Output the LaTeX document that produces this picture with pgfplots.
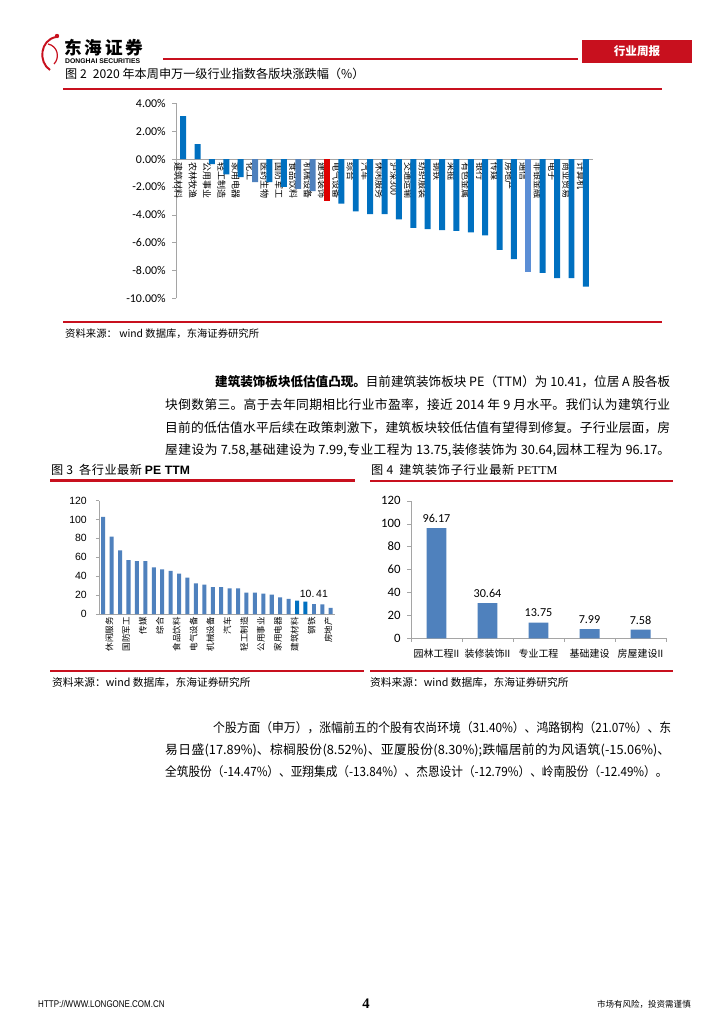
\documentclass[border=0pt]{standalone}
\usepackage{pgfplots}
\pgfplotsset{compat=1.18}
\usepackage{fontspec}
\setmainfont{Noto Sans CJK SC}
\newfontfamily\carl{Carlito}
\newfontfamily\ari{Liberation Sans}
\newfontfamily\tms{Liberation Serif}
\XeTeXlinebreaklocale "zh"
\XeTeXlinebreakskip=0pt plus 2pt minus 0.3pt

\definecolor{dblue}{RGB}{0,112,192}
\definecolor{lblue}{RGB}{79,129,189}
\definecolor{tblue}{RGB}{91,142,213}
\definecolor{hred}{RGB}{222,0,0}
\definecolor{lred}{RGB}{200,16,30}
\definecolor{axgray}{RGB}{165,165,165}

% set a line to a given width: spread it when short, squeeze it when long
\newcommand\fitbox[2]{\setbox0\hbox{#2}\ifdim\wd0>#1\relax\resizebox{#1}{\height}{\box0}%
  \else\parbox[t]{#1}{\parfillskip=0pt\relax #2\par}\fi}
\newcommand\jline[4]{\node[anchor=base west, inner sep=0pt,
  font=\fontsize{10.5pt}{12pt}\selectfont] at (#1,#2) {\fitbox{#3}{#4}};}
% place an axis at reference pixel (x,y)
\newcommand\pxat[2]{at={({#1*0.8222pt},{-#2*0.8222pt})}}

\begin{document}
\begin{tikzpicture}
\begin{scope}[x=0.8222pt,y=-0.8222pt]
\path[use as bounding box, fill=white] (0,0) rectangle (724,1024);

% ---------- header ----------
\draw[lred, line width=1.6pt] (56,37) .. controls (40,40) and (38,62) .. (50,70);
\draw[lred, line width=1pt] (48,44) .. controls (58,46) and (60,58) .. (54,64);
\fill[lred] (57,36) circle (2.2);
\node[anchor=west, inner sep=0pt, font=\bfseries\fontsize{14.5pt}{15pt}\selectfont] at (64,48) {东\,海\,证\,券};
\node[anchor=west, inner sep=0pt, font=\ari\bfseries\fontsize{5.6pt}{6pt}\selectfont] at (65,61) {DONGHAI SECURITIES};
\draw[lred, line width=0.9pt] (163,59) -- (578,59);
\fill[lred] (582,40) rectangle (692,63);
\node[text=white, font=\bfseries\fontsize{9.5pt}{10pt}\selectfont] at (637,51.5) {行业周报};

% ---------- figure 2 frame ----------
\node[anchor=base west, inner sep=0pt, font=\fontsize{10pt}{11pt}\selectfont] at (65,79) {\fitbox{246pt}{图 2\enspace 2020 年本周申万一级行业指数各版块涨跌幅（\%）}};
\draw[lred, line width=2pt] (63,89) -- (662,89);
\draw[lred, line width=2pt] (63,322) -- (662,322);
\node[anchor=base west, inner sep=0pt, font=\fontsize{8.5pt}{9pt}\selectfont] at (65,337) {资料来源：\ wind 数据库，东海证券研究所};

% ---------- paragraph 1 ----------
\jline{215}{386}{374.1pt}{\textbf{建筑装饰板块低估值凸现。}目前建筑装饰板块 PE（TTM）为 10.41，位居 A 股各板}
\jline{165}{409}{415.2pt}{块倒数第三。高于去年同期相比行业市盈率，接近 2014 年 9 月水平。我们认为建筑行业}
\jline{165}{432}{415.2pt}{目前的低估值水平后续在政策刺激下，建筑板块较低估值有望得到修复。子行业层面，房}
\jline{165}{454}{415.2pt}{屋建设为 7.58,基础建设为 7.99,专业工程为 13.75,装修装饰为 30.64,园林工程为 96.17。}

% ---------- figure 3 / 4 frames ----------
\node[anchor=base west, inner sep=0pt, font=\fontsize{10pt}{11pt}\selectfont] at (51,474) {\fitbox{114pt}{图 3\enspace 各行业最新 \textbf{\ari PE TTM}}};
\draw[lred, line width=2pt] (50,480.5) -- (355,480.5);
\draw[lred, line width=2pt] (50,671) -- (364,671);
\node[anchor=base west, inner sep=0pt, font=\fontsize{8.8pt}{9pt}\selectfont] at (52,686) {资料来源：wind 数据库，东海证券研究所};

\node[anchor=base west, inner sep=0pt, font=\fontsize{10pt}{11pt}\selectfont] at (371,474) {\fitbox{153pt}{图 4\enspace 建筑装饰子行业最新 {\tms PETTM}}};
\draw[lred, line width=2pt] (370,481) -- (673,481);
\draw[lred, line width=2pt] (370,671) -- (673,671);
\node[anchor=base west, inner sep=0pt, font=\fontsize{8.8pt}{9pt}\selectfont] at (370,686) {资料来源：wind 数据库，东海证券研究所};

% ---------- paragraph 2 ----------
\jline{213}{732}{376.5pt}{个股方面（申万），涨幅前五的个股有农尚环境（31.40\%）、鸿路钢构（21.07\%）、东}
\jline{165}{754}{415.2pt}{易日盛(17.89\%)、棕榈股份(8.52\%)、亚厦股份(8.30\%);跌幅居前的为风语筑(-15.06\%)、}
\jline{165}{776}{413pt}{全筑股份（-14.47\%）、亚翔集成（-13.84\%）、杰恩设计（-12.79\%）、岭南股份（-12.49\%）。}

% ---------- footer ----------
\node[anchor=base west, inner sep=0pt, font=\ari\fontsize{8pt}{9pt}\selectfont] at (38,1007) {\scalebox{0.82}[1]{HTTP://WWW.LONGONE.COM.CN}};
\node[anchor=base, inner sep=0pt, font=\tms\bfseries\fontsize{12pt}{13pt}\selectfont] at (366,1008) {4};
\node[anchor=base east, inner sep=0pt, font=\fontsize{7pt}{8pt}\selectfont] at (691,1007) {市场有风险，投资需谨慎};
\end{scope}

% ---------- figure 2 ----------
\begin{axis}[
  \pxat{176}{298.3}, anchor=south west,
  scale only axis, width=342.9pt, height=160.3pt,
  xmin=-0.5, xmax=28.5, ymin=-10, ymax=4,
  enlargelimits=false,
  axis x line*=middle, axis y line*=left,
  axis line style={draw=axgray, -},
  hide obscured y ticks=false,
  tick align=outside, major tick length=3pt,
  ytick={-10,-8,...,4},
  ytick style={draw=axgray},
  /pgf/number format/assume math mode=true,
  yticklabel={\pgfmathprintnumber[fixed,fixed zerofill,precision=2]{\tick}\%},
  yticklabel style={font=\carl\fontsize{9.8pt}{10pt}\selectfont, xshift=-2pt},
  xtick={0,...,28}, xtick style={draw=none},
  xticklabels={建筑材料,农林牧渔,公用事业,轻工制造,家用电器,化工,医药生物,国防军工,食品饮料,机械设备,建筑装饰,电气设备,综合,汽车,休闲服务,沪深300,交通运输,纺织服装,钢铁,采掘,有色金属,银行,传媒,房地产,通信,非银金融,电子,商业贸易,计算机},
  xticklabel style={rotate=-90, anchor=west, inner sep=0pt, yshift=-4pt,
    font=\fontsize{7.4pt}{8pt}\selectfont},
]
\addplot[ybar, bar width=4.9pt, bar shift=0pt, fill=dblue, draw=none] coordinates {
 (0,3.09) (1,1.08) (2,-0.36) (3,-1.10) (4,-1.30) (6,-1.65) (7,-2.00)
 (11,-3.20) (12,-3.75) (13,-3.96) (14,-3.96) (15,-4.34) (16,-4.94) (17,-5.04)
 (18,-5.11) (19,-5.15) (20,-5.27) (21,-5.49) (22,-6.52) (23,-7.19)
 (25,-8.18) (26,-8.56) (27,-8.56) (28,-9.16)};
\addplot[ybar, bar width=4.9pt, bar shift=0pt, fill=lblue, draw=none] coordinates {
 (5,-1.65) (8,-2.15) (9,-2.30)};
\addplot[ybar, bar width=4.9pt, bar shift=0pt, fill=tblue, draw=none] coordinates {(24,-8.10)};
\addplot[ybar, bar width=4.9pt, bar shift=0pt, fill=hred, draw=none] coordinates {(10,-3.00)};
\end{axis}

% ---------- figure 3 ----------
\begin{axis}[
  \pxat{99}{614}, anchor=south west,
  scale only axis, width=194pt, height=93.3pt,
  xmin=-0.5, xmax=27.5, ymin=0, ymax=120,
  enlargelimits=false,
  axis x line*=bottom, axis y line*=left,
  axis line style={draw=axgray, -},
  tick align=outside, major tick length=2.5pt,
  ytick={0,20,...,120}, ytick style={draw=axgray},
  /pgf/number format/assume math mode=true,
  yticklabel style={font=\ari\fontsize{8.6pt}{9pt}\selectfont, xshift=-4pt},
  xtick={0,2,...,26}, xtick style={draw=none},
  xticklabels={休闲服务,国防军工,传媒,综合,食品饮料,电气设备,机械设备,汽车,轻工制造,公用事业,家用电器,建筑材料,钢铁,房地产},
  xticklabel style={rotate=90, anchor=east, inner sep=0pt, yshift=-5pt,
    font=\fontsize{7pt}{7pt}\selectfont},
]
% 休闲服务,计算机,国防军工,电子,传媒,通信,综合,医药生物,食品饮料,化工,电气设备,农林牧渔,机械设备,商业贸易,
% 汽车,有色金属,轻工制造,交通运输,公用事业,纺织服装,家用电器,非银金融,建筑材料,采掘,钢铁,建筑装饰,房地产,银行
\addplot[ybar, bar width=3.3pt, bar shift=0pt, fill=lblue, draw=none] coordinates {
 (0,102.8) (1,81.8) (2,67.2) (3,57.0) (4,55.8) (5,55.8) (6,49.2) (7,47.3)
 (8,45.6) (9,42.8) (10,38.6) (11,32.3) (12,31.2) (13,28.5) (14,28.5) (15,27.2)
 (16,27.2) (17,22.5) (18,22.5) (19,21.5) (20,20.4) (21,17.6) (22,15.9)
 (26,10.1) (27,6.5)};
\addplot[ybar, bar width=3.3pt, bar shift=0pt, fill=dblue, draw=none] coordinates {
 (23,14.1) (24,13.1)};
\addplot[ybar, bar width=3.3pt, bar shift=0pt, fill=lblue, draw=none,
  nodes near coords={10.\,41},
  every node near coord/.append style={font=\ari\fontsize{8.6pt}{9pt}\selectfont, yshift=2pt}]
  coordinates {(25,10.41)};
\end{axis}

% ---------- figure 4 ----------
\begin{axis}[
  \pxat{411}{638.3}, anchor=south west,
  scale only axis, width=209.7pt, height=113.1pt,
  xmin=-0.5, xmax=4.5, ymin=0, ymax=120,
  enlargelimits=false,
  axis x line*=bottom, axis y line*=left,
  axis line style={draw=axgray, -},
  tick align=outside, major tick length=3pt, minor tick length=3pt,
  ytick={0,20,...,120}, ytick style={draw=axgray},
  /pgf/number format/assume math mode=true,
  yticklabel style={font=\carl\fontsize{10.5pt}{11pt}\selectfont, xshift=-2pt},
  xtick={0,...,4}, major x tick style={draw=none},
  minor xtick={-0.5,0.5,...,4.5}, minor x tick style={draw=axgray},
  xticklabels={园林工程II,装修装饰II,专业工程,基础建设,房屋建设II},
  xticklabel style={inner sep=0pt, yshift=-6pt, font=\fontsize{8.2pt}{9pt}\selectfont},
  nodes near coords,
  every node near coord/.append style={font=\carl\fontsize{10pt}{11pt}\selectfont, yshift=1pt},
]
\addplot[ybar, bar width=16.4pt, bar shift=0pt, fill=lblue, draw=none] coordinates {
 (0,96.17) (1,30.64) (2,13.75) (3,7.99) (4,7.58)};
\end{axis}
\end{tikzpicture}
\end{document}
